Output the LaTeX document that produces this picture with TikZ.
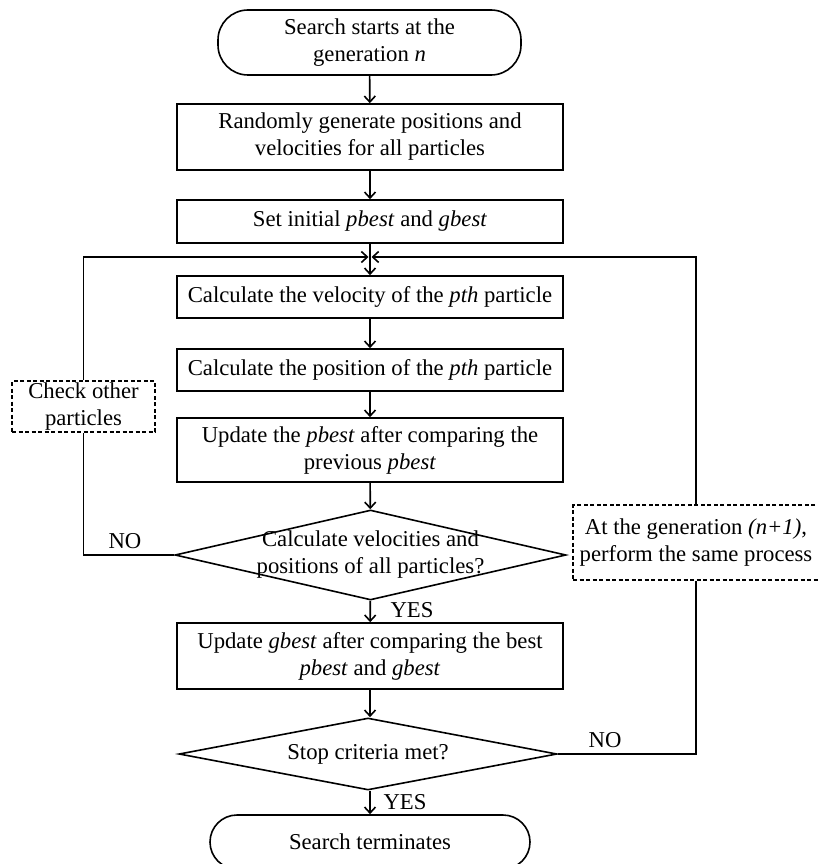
\documentclass[tikz,border=0pt]{standalone}
\usepackage{fontspec}
\setmainfont{Liberation Serif}
\usetikzlibrary{arrows.meta,shapes.geometric}
\begin{document}
\begin{tikzpicture}[x=1pt,y=-1pt,
  every node/.style={font=\fontsize{22.7}{27}\selectfont},
  line/.style={line width=1.6pt},
  arr/.style={line width=1.6pt,-{Straight Barb[length=6pt,width=11pt,line width=1.6pt]}},
  proc/.style={draw,line width=1.6pt,align=center,minimum width=386pt,inner sep=0pt},
  term/.style={draw,line width=1.6pt,align=center,rounded corners=30pt,inner sep=0pt},
  dec/.style={draw,line width=1.6pt,diamond,inner sep=0pt,aspect=4},
  note/.style={draw,line width=1.2pt,dashed,dash pattern=on 4pt off 2.5pt,align=center,inner sep=0pt},
  txt/.style={align=center,inner sep=0pt}]
\useasboundingbox (0,0) rectangle (818,864);
\node[term,minimum width=303pt,minimum height=65pt] (start) at (369.5,42.5) {Search starts at the\\generation \textit{n}};
\node[proc,minimum height=66pt] (init) at (370,137) {Randomly generate positions and\\velocities for all particles};
\node[proc,minimum height=43pt] (set) at (370,221.5) {Set initial \textit{pbest} and \textit{gbest}};
\coordinate (j) at (370,257);
\node[proc,minimum height=42pt] (vel) at (370,297) {Calculate the velocity of the \textit{pth} particle};
\node[proc,minimum height=42pt] (pos) at (370,370) {Calculate the position of the \textit{pth} particle};
\node[proc,minimum height=64pt] (upd) at (370,450) {Update the \textit{pbest} after comparing the\\previous \textit{pbest}};
\node[dec,minimum width=391pt,minimum height=90pt] (d1) at (370.5,555) {};
\node[txt] (d1t) at (370.5,555) {Calculate velocities and\\positions of all particles?};
\node[proc,minimum height=66pt] (gb) at (370,656) {Update \textit{gbest} after comparing the best\\\textit{pbest} and \textit{gbest}};
\node[dec,minimum width=378pt,minimum height=72pt] (d2) at (368,754) {};
\node[txt] (d2t) at (368,754) {Stop criteria met?};
\node[term,minimum width=320pt,minimum height=54pt,rounded corners=27pt] (stop) at (370,842) {Search terminates};
\node[note,minimum width=143pt,minimum height=51pt] (chk) at (83.5,406.5) {Check other\\particles};
\node[note,minimum width=246pt,minimum height=75pt] (gen) at (696,542.5) {At the generation \textit{(n+1)},\\perform the same process};
% connectors
\draw[arr] (start) -- (init);
\draw[arr] (init) -- (set);
\draw[arr] (set) -- (vel);
\draw[arr] (vel) -- (pos);
\draw[arr] (pos) -- (upd);
\draw[arr] (upd) -- (d1);
\draw[arr] (d1) -- (gb);
\draw[arr] (gb.south) -- (gb.south |- d2.north);
\draw[arr] (d2.south -| stop.north) -- (stop.north);
\draw[line] (d1.west) -| (chk.south);
\draw[arr,shorten >=1.5pt] (chk.north) |- (j);
\draw[line] (d2.east) -| (gen.south);
\draw[arr,shorten >=1.5pt] (gen.north) |- (j);
% labels
\node[txt] (no1) at (125,541) {NO};
\node[txt] (yes1) at (412,610) {YES};
\node[txt] (no2) at (605,740) {NO};
\node[txt] (yes2) at (405,802) {YES};
\end{tikzpicture}
\end{document}
